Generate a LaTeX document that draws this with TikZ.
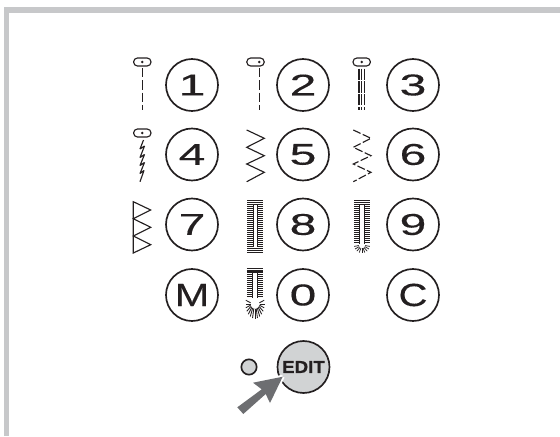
\documentclass[tikz,border=0pt]{standalone}
\usepackage{fontspec}
\setmainfont{Liberation Sans}
\newfontfamily\btnfont[FakeBold=0.3]{Liberation Sans}
\newfontfamily\editfont[FakeBold=0.5]{Liberation Sans Bold}
\usepackage{graphicx}
\definecolor{barGray}{HTML}{C7C8CA}
\definecolor{btnGray}{HTML}{D1D3D4}
\definecolor{arrowGray}{HTML}{6D6E71}
\definecolor{inkK}{HTML}{231F20}
\newcommand{\digitlabel}[1]{\scalebox{1.6}[1]{\fontsize{22.5}{22.5}\btnfont\selectfont #1}}
\newcommand{\letterlabel}[2]{\scalebox{#1}[1]{\fontsize{24}{24}\btnfont\selectfont #2}}
\newcommand{\pillat}[2]{%
  \draw[stitchln,rounded corners=2.9pt] (#1-8.7,#2-4) rectangle (#1+8.7,#2+4);
}
\newcommand{\buttonhole}[4]{% x-left, y-top, y-bottom-of-columns, x-right
  \foreach \yy in {#2,#2+1.9,#2+3.8} \draw[hatchln,line width=1pt] (#1,\yy) -- (#4,\yy);
  \pgfmathsetmacro{\ystart}{#2+6}
  \pgfmathsetmacro{\ynext}{#2+8}
  \foreach \yy in {\ystart,\ynext,...,#3} {
    \draw[hatchln] (#1,\yy) -- (#1+5.6,\yy);
    \draw[hatchln] (#4-5.6,\yy) -- (#4,\yy);
  }
  \draw[hatchln,line width=.6pt] (#1+5.6,#2+4) -- (#1+5.6,#3) (#4-5.6,#2+4) -- (#4-5.6,#3);
}
\tikzset{
  btn/.style={circle,draw=inkK,line width=1.25pt,minimum size=39pt,inner sep=0pt,text=inkK},
  stitchln/.style={draw=inkK,line width=.85pt},
  hatchln/.style={draw=inkK,line width=.75pt},
  dashln/.style={draw=inkK,line width=.9pt,dash pattern=on 7pt off 2.2pt},
  barfill/.style={fill=barGray,draw=none},
  arrowhalo/.style={draw=white,line width=3pt,line join=miter},
  arrowshape/.style={fill=arrowGray,draw=none}
}
\begin{document}
\begin{tikzpicture}[x=.75pt,y=-.75pt]
\useasboundingbox (0,0) rectangle (560,436);
% frame
\fill[barfill] (4,7.3) rectangle (560,12.7);
\fill[barfill] (4,7.3) rectangle (9,436);
% buttons
\node[btn] (b1) at (192,85) {\digitlabel{1}};
\node[btn] (b2) at (303,85) {\digitlabel{2}};
\node[btn] (b3) at (413,85) {\digitlabel{3}};
\node[btn] (b4) at (192,154.5) {\digitlabel{4}};
\node[btn] (b5) at (303,154.5) {\digitlabel{5}};
\node[btn] (b6) at (413,154.5) {\digitlabel{6}};
\node[btn] (b7) at (192,224.5) {\digitlabel{7}};
\node[btn] (b8) at (303,224.5) {\digitlabel{8}};
\node[btn] (b9) at (413,224.5) {\digitlabel{9}};
\node[btn] (bM) at (192,295) {\letterlabel{1.3}{M}};
\node[btn] (b0) at (303,295) {\digitlabel{0}};
\node[btn] (bC) at (413,295) {\letterlabel{1.25}{C}};
\node[btn,fill=btnGray] (bE) at (303.5,367) {\scalebox{1.08}[1]{\fontsize{13}{13}\editfont\selectfont EDIT}};
\node[circle,draw=inkK,fill=btnGray,line width=1.25pt,minimum size=11.5pt,inner sep=0pt] (led) at (249,367) {};
% arrow
\draw[arrowhalo] (282.7,376.7) -- (253,382.7) (282.7,376.7) -- (270,403);
\fill[arrowshape] (282.7,376.7) -- (253,382.7) -- (261.7,389.3) -- (237.3,407.3) -- (243.3,414) -- (265.7,394) -- (270,403) -- cycle;
% straight stitch 1
\pillat{142.3}{62}
\fill[inkK] (142.3,62) circle (1.4);
\draw[dashln] (142.3,68) -- (142.3,110);
% straight stitch 2
\pillat{255.5}{62}
\fill[inkK] (259.3,62) circle (1.4);
\draw[dashln] (259.3,68) -- (259.3,110);
% triple stitch 3
\pillat{361.7}{62}
\fill[inkK] (361.7,62) circle (1.4);
\foreach \xx in {359,361.8,364.6}
  \draw[draw=inkK,line width=.85pt,dash pattern=on 8.3pt off 1.4pt] (\xx,68.5) -- (\xx,110);
% stretch stitch 4
\pillat{142.3}{133}
\fill[inkK] (142.3,133) circle (1.4);
\draw[stitchln,line join=bevel] (143.5,140) -- (140,149) -- (144.5,146) -- (140,157.5) -- (144.5,154.5) -- (140,165.5) -- (144.5,162.5) -- (140,173.5) -- (144,170.5) -- (140,181.7);
% zigzag 5
\draw[stitchln] (246.7,130) -- (264.3,138.3) -- (246.7,147.3) -- (264.3,155.7) -- (246.7,164) -- (264.3,172.3) -- (246.7,181.7);
% dashed zigzag 6
\draw[draw=inkK,line width=.85pt,dash pattern=on 6pt off 1.8pt] (353.3,130) -- (371,138.3) -- (353.3,147.3) -- (371,155.7) -- (353.3,164) -- (371,172.3) -- (353.3,181.7);
% triangle stitch 7
\draw[stitchln,line join=miter] (133.3,201.7) -- (150.7,210) -- (133.3,218.7) -- (150.7,227.3) -- (133.3,236) -- (150.7,244.7) -- (133.3,253) -- cycle;
% buttonhole 8
\buttonhole{247.3}{200.7}{247}{263.3}
\foreach \yy in {248.5,250.5,252.5} \draw[hatchln,line width=1pt] (247.3,\yy) -- (263.3,\yy);
% buttonhole 9
\buttonhole{354}{200.7}{244}{370}
\foreach \aa in {10,30,...,170}
  \draw[draw=inkK,line width=.55pt] ([shift={(\aa:3.2)}]362,245) -- ([shift={(\aa:8)}]362,245);
% buttonhole 0
\buttonhole{246.8}{268.3}{298}{263.3}
\foreach \aa in {-15,0,...,195}
  \draw[draw=inkK,line width=.65pt] ([shift={(\aa:4.5)}]255,304) -- ([shift={(\aa:9.5 and 14.5)}]255,304);
\end{tikzpicture}
\end{document}
